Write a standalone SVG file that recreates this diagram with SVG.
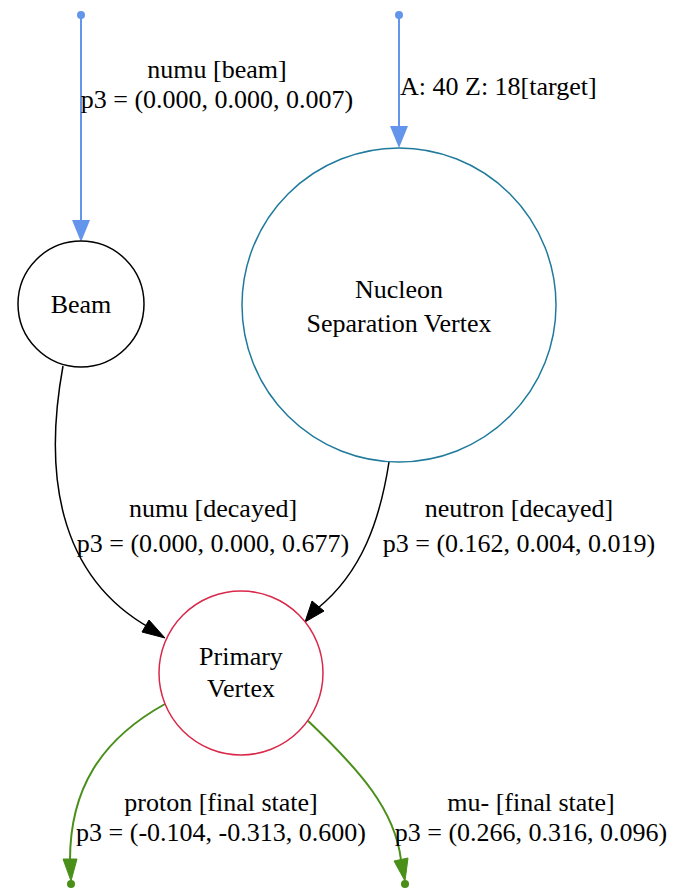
<svg xmlns="http://www.w3.org/2000/svg" width="679" height="889" viewBox="0 0 679 889">
<defs>
<style>
text{font-family:"Liberation Serif","Times New Roman",serif;font-size:26px;fill:#000;}
.c{text-anchor:middle;}
.node{fill:#fff;stroke-width:1.5;}
.blue{stroke:#6495ed;fill:none;stroke-width:2;}
.black{stroke:#000;fill:none;stroke-width:1.5;}
.green{stroke:#4a8f1a;fill:none;stroke-width:2;}
</style>
</defs>
<rect width="679" height="889" fill="#fff"/>
<g id="connectors">
  <g id="e-beam-in">
    <circle cx="81" cy="15" r="4" fill="#6495ed"/>
    <line class="blue" x1="81" y1="15" x2="81" y2="222"/>
    <polygon points="72,220 90,220 81,242" fill="#6495ed"/>
    <text class="c" x="217" y="78">numu [beam]</text>
    <text class="c" x="217" y="108">p3 = (0.000, 0.000, 0.007)</text>
  </g>
  <g id="e-target-in">
    <circle cx="399" cy="15" r="4" fill="#6495ed"/>
    <line class="blue" x1="399" y1="15" x2="399" y2="128"/>
    <polygon points="390,126 408,126 399,148" fill="#6495ed"/>
    <text x="400" y="95">A: 40 Z: 18[target]</text>
  </g>
  <g id="e-numu-decayed">
    <path class="black" d="M63,366 C44,470 56,575 150,628"/>
    <polygon points="165,638 142,632 149,620" fill="#000" stroke="#000"/>
    <text class="c" x="213" y="517">numu [decayed]</text>
    <text class="c" x="213" y="552">p3 = (0.000, 0.000, 0.677)</text>
  </g>
  <g id="e-neutron-decayed">
    <path class="black" d="M389,462 C380,520 362,572 318,608"/>
    <polygon points="305,622 312,601 324,611" fill="#000" stroke="#000"/>
    <text class="c" x="519" y="517">neutron [decayed]</text>
    <text class="c" x="519" y="552">p3 = (0.162, 0.004, 0.019)</text>
  </g>
  <g id="e-proton">
    <path class="green" d="M165,704 C100,740 70,790 70,860"/>
    <polygon points="63,859 77,859 71,881" fill="#4a8f1a" stroke="#4a8f1a"/>
    <circle cx="71" cy="884" r="4" fill="#4a8f1a"/>
    <text class="c" x="221" y="811">proton [final state]</text>
    <text class="c" x="221" y="841">p3 = (-0.104, -0.313, 0.600)</text>
  </g>
  <g id="e-mu">
    <path class="green" d="M305,718 C360,770 395,810 401,860"/>
    <polygon points="394,861 408,858 405,881" fill="#4a8f1a" stroke="#4a8f1a"/>
    <circle cx="405" cy="884" r="4" fill="#4a8f1a"/>
    <text class="c" x="531" y="811">mu- [final state]</text>
    <text class="c" x="531" y="841">p3 = (0.266, 0.316, 0.096)</text>
  </g>
</g>
<g id="beam">
  <circle class="node" cx="81" cy="304" r="63" stroke="#000"/>
  <text class="c" x="81" y="313">Beam</text>
</g>
<g id="nucleon">
  <circle class="node" cx="399" cy="305" r="157" stroke="#1f7a9c"/>
  <text class="c" x="399" y="298">Nucleon</text>
  <text class="c" x="399" y="332">Separation Vertex</text>
</g>
<g id="primary">
  <circle class="node" cx="241" cy="673" r="82" stroke="#d9284a"/>
  <text class="c" x="241" y="665">Primary</text>
  <text class="c" x="241" y="697">Vertex</text>
</g>
</svg>
